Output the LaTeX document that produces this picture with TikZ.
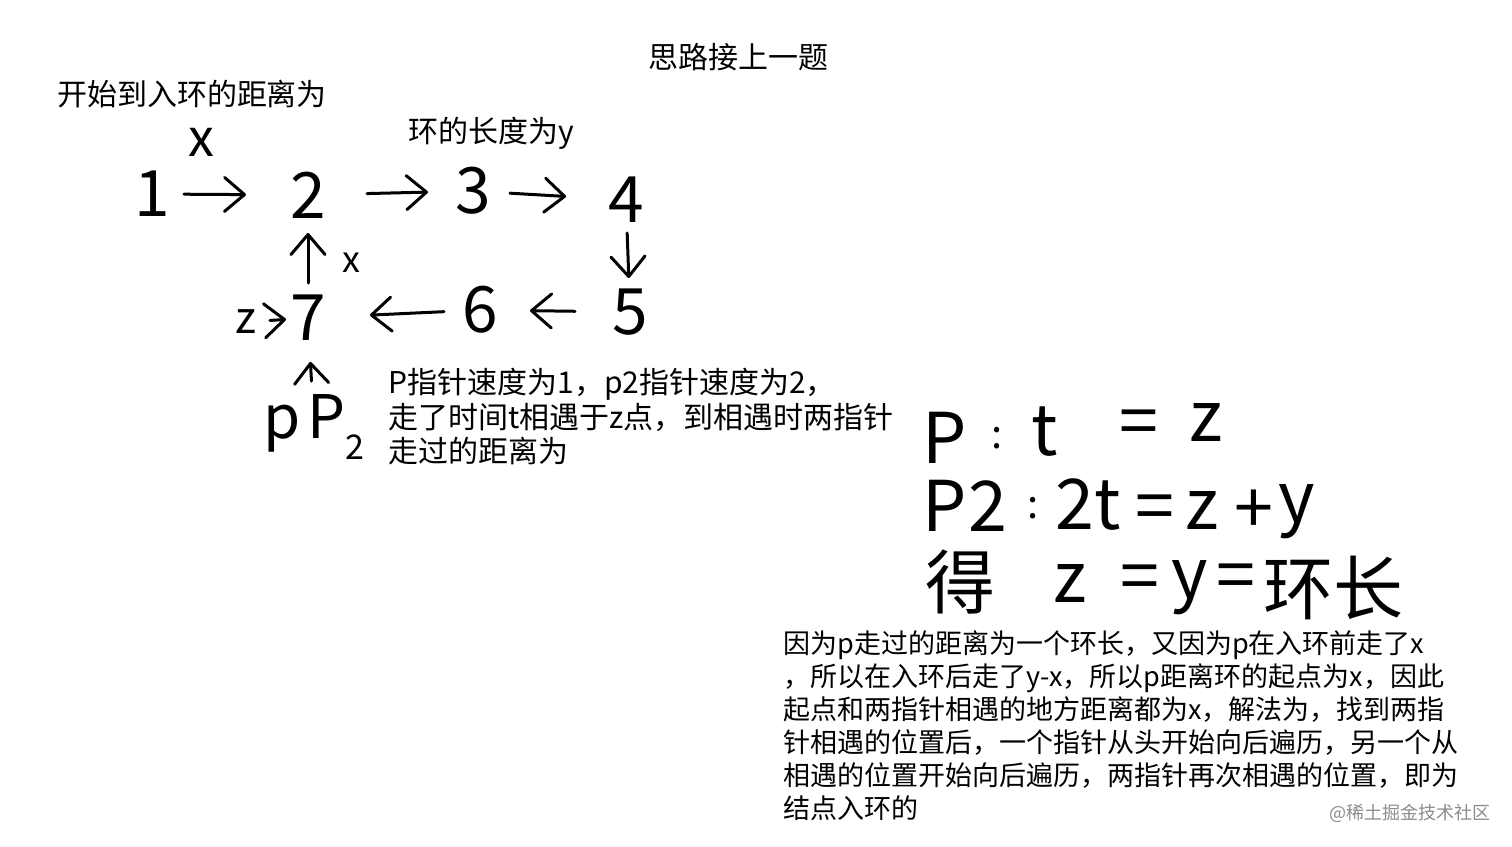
\documentclass[tikz,border=0pt]{standalone}
\usepackage{fontspec}
\setmainfont{Noto Sans CJK SC}
\usetikzlibrary{arrows.meta}
\begin{document}
\begin{tikzpicture}[x=0.5pt,y=-0.5pt,
  txt/.style={inner sep=0pt, font=\fontsize{15}{18}\selectfont},
  para/.style={inner sep=0pt, align=left, anchor=north west},
  hand/.style={inner sep=0pt, font=\fontsize{32}{36}\selectfont},
  eqn/.style={inner sep=0pt, font=\fontsize{35}{40}\selectfont},
  harrow/.style={line width=1.5pt, line cap=round, -{Straight Barb[length=10pt,width=17pt,round]}},
]
\useasboundingbox (0,0) rectangle (1512,847);
\fill[white] (0,0) rectangle (1512,847);

% typed labels
\node[txt] (title) at (738,57) {思路接上一题};
\node[txt] (lab1) at (192,94) {开始到入环的距离为};
\node[txt] (lab2) at (491,133) {环的长度为y};

% handwritten list
\node[hand, font=\fontsize{26}{30}\selectfont] (xl) at (201,142) {x};
\node[hand] (n1) at (152,194) {1};
\node[hand] (n2) at (308,195) {2};
\node[hand] (n3) at (473,191) {3};
\node[hand] (n4) at (626,200) {4};
\node[hand] (n5) at (630,312) {5};
\node[hand] (n6) at (480,310) {6};
\node[hand] (n7) at (308,318) {7};
\node[hand, font=\fontsize{22}{26}\selectfont] (nz) at (246,322) {z};
\node[hand, font=\fontsize{18}{22}\selectfont] (xs) at (351,263) {x};
\node[hand, font=\fontsize{30}{34}\selectfont] (pp) at (314,427) {p\hspace{3pt}P\raisebox{-0.35em}{\fontsize{17}{17}\selectfont 2}};

\draw[harrow, shorten <=16pt, shorten >=31pt] (n1.center) -- (n2.center);
\draw[harrow, shorten <=29.5pt, shorten >=22.5pt] (n2.center) -- (n3.center);
\draw[harrow, shorten <=18.5pt, shorten >=30pt] (n3.center) -- (n4.center);
\draw[harrow, shorten <=16.5pt, shorten >=17pt] (n4.center) -- (n5.center);
\draw[harrow, shorten <=27.5pt, shorten >=25pt] (n5.center) -- (n6.center);
\draw[harrow, shorten <=18pt, shorten >=31pt] (n6.center) -- (n7.center);
\draw[harrow, shorten <=12pt, shorten >=11pt] (nz.center) -- (n7.center);
\draw[harrow, shorten <=17.5pt, shorten >=19pt] (n7.center) -- (n2.center);
\draw[harrow, shorten <=23pt, shorten >=22pt] (pp.center) -- (n7.center);

% left paragraph
\node[para, font=\fontsize{15}{17.25}\selectfont] (para1) at (388,368)
  {P指针速度为1，p2指针速度为2，\\走了时间t相遇于z点，到相遇时两指针\\走过的距离为};

% right equations
\node[eqn] (eP1) at (945,438) {P};
\node[eqn, font=\fontsize{20}{24}\selectfont] (ec1) at (997,438) {:};
\node[eqn] (et1) at (1045,432) {t};
\node[eqn] (eq1) at (1139,428) {=};
\node[eqn] (ez1) at (1206,422) {z};

\node[eqn] (eP2) at (945,506) {P};
\node[eqn] (e22) at (988,506) {2};
\node[eqn, font=\fontsize{20}{24}\selectfont] (ec2) at (1033,508) {:};
\node[eqn] (e2t) at (1088,505) {2t};
\node[eqn] (eq2) at (1155,513) {=};
\node[eqn] (ez2) at (1202,510) {z};
\node[eqn] (epl) at (1254,512) {+};
\node[eqn] (ey2) at (1297,512) {y};

\node[eqn] (ede) at (960,582) {得};
\node[eqn] (ez3) at (1070,583) {z};
\node[eqn] (eq3) at (1140,583) {=};
\node[eqn] (ey3) at (1190,588) {y};
\node[eqn] (eq4) at (1236,582) {=};
\node[eqn] (ering) at (1333,588) {环长};

% bottom paragraph
\node[para, font=\fontsize{13.5}{16.5}\selectfont] (para2) at (783,630)
  {因为p走过的距离为一个环长，又因为p在入环前走了x\\
   ，所以在入环后走了y-x，所以p距离环的起点为x，因此\\
   起点和两指针相遇的地方距离都为x，解法为，找到两指\\
   针相遇的位置后，一个指针从头开始向后遍历，另一个从\\
   相遇的位置开始向后遍历，两指针再次相遇的位置，即为\\
   结点入环的};

% watermark
\node[inner sep=0pt, text=black!45, font=\fontsize{9}{11}\selectfont] (wm) at (1410,813) {@稀土掘金技术社区};
\end{tikzpicture}
\end{document}
